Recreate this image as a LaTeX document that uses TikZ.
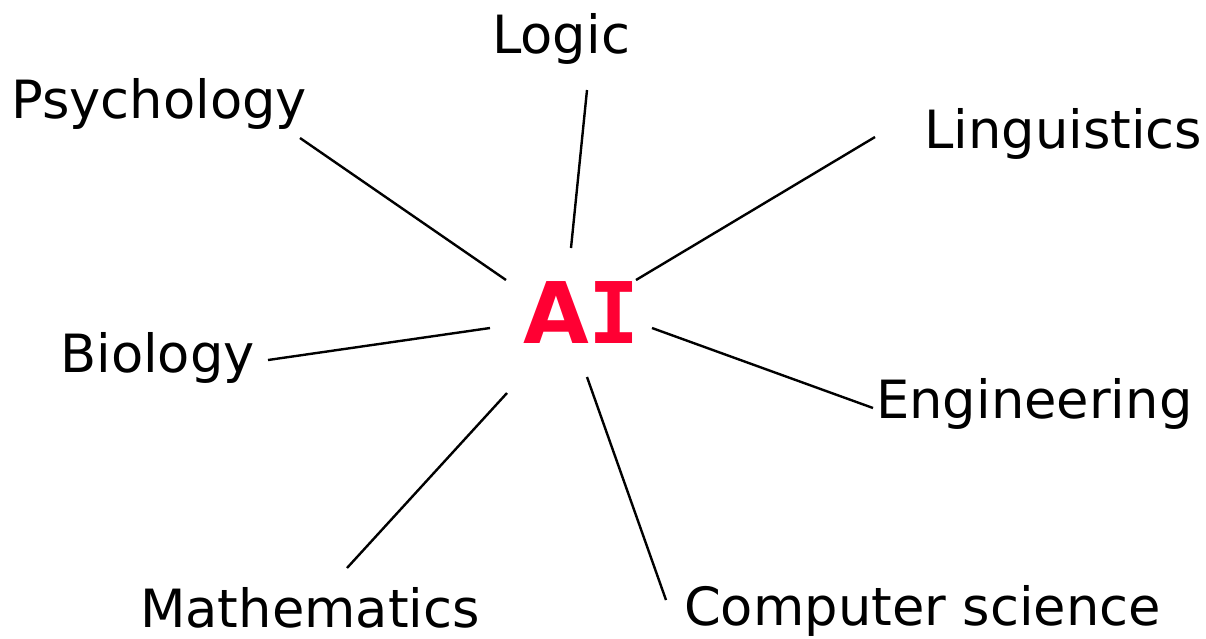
\documentclass[tikz,border=0pt]{standalone}
\usepackage{fontspec}
\setmainfont{DejaVu Sans}
\newfontfamily\aisans{DejaVu Sans}
\newfontfamily\aimono{DejaVu Sans Mono}
\definecolor{aired}{HTML}{FF0033}
\begin{document}
\begin{tikzpicture}[x=1pt,y=-1pt,
  lbl/.style={anchor=base west,inner sep=0pt,font=\fontsize{52.7}{60}\selectfont},
  link/.style={line width=2.4pt,black}]
\useasboundingbox (0,0) rectangle (1206,638);
\node[inner sep=0pt,anchor=base west,text=aired,font=\fontsize{85}{96}\selectfont\bfseries] (ai) at (523,343) {{\aisans A}{\aimono I}};
\node[lbl] (logic) at (492,53) {Logic};
\node[lbl] (psy) at (11,118) {Psychology};
\node[lbl] (ling) at (924,148) {Linguistics};
\node[lbl] (bio) at (60,372) {Biology};
\node[lbl] (eng) at (876,418) {Engineering};
\node[lbl] (math) at (140,627) {Mathematics};
\node[lbl] (cs) at (684,625) {Computer science};
\coordinate (psyE) at (300,138); \coordinate (psyA) at (506,280);
\coordinate (logE) at (587,90);  \coordinate (logA) at (571,248);
\coordinate (linE) at (875,137); \coordinate (linA) at (636,280);
\coordinate (bioE) at (268,360); \coordinate (bioA) at (490,328);
\coordinate (engE) at (873,408); \coordinate (engA) at (652,328);
\coordinate (matE) at (347,568); \coordinate (matA) at (507,393);
\coordinate (csE) at (666,600);  \coordinate (csA) at (587,377);
\draw[link] (psyE) -- (psyA);
\draw[link] (logE) -- (logA);
\draw[link] (linE) -- (linA);
\draw[link] (bioE) -- (bioA);
\draw[link] (engE) -- (engA);
\draw[link] (matE) -- (matA);
\draw[link] (csE) -- (csA);
\end{tikzpicture}
\end{document}
